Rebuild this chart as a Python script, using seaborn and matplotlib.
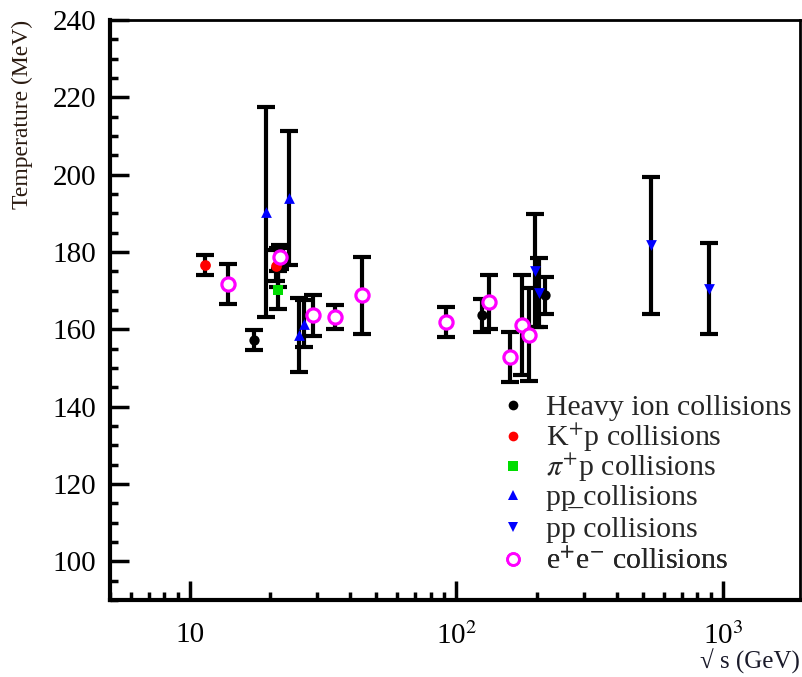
import numpy as np
import pandas as pd
import matplotlib
matplotlib.use("Agg")
import matplotlib.pyplot as plt
import seaborn as sns
from matplotlib.lines import Line2D
from matplotlib.ticker import FixedLocator, MultipleLocator, NullFormatter

# sqrt(s) in GeV, temperature and error in MeV
heavy_x = [17.3, 21.4, 125.0, 215.0]
heavy_t = [157.2, 176.0, 163.6, 168.8]
heavy_e = [2.6, 5.0, 4.2, 4.8]

kp_x = [11.4, 21.0]
kp_t = [176.7, 176.5]
kp_e = [2.6, 4.0]

pip_x = [21.4]
pip_t = [170.1]
pip_e = [4.9]

pp_x = [19.3, 23.6, 25.6, 26.8]
pp_t = [190.3, 194.0, 158.5, 161.5]
pp_e = [27.2, 17.3, 9.5, 6.1]

ppbar_x = [198.0, 205.0, 537.0, 885.0]
ppbar_t = [175.2, 169.5, 181.7, 170.5]
ppbar_e = [14.5, 9.0, 17.7, 11.7]

ee_x = [13.9, 21.7, 28.8, 35.0, 44.0, 91.2, 133.0, 159.0, 177.0, 188.0]
ee_t = [171.8, 178.7, 163.6, 163.2, 168.8, 161.9, 167.1, 152.9, 161.1, 158.6]
ee_e = [5.2, 3.0, 5.2, 3.1, 9.9, 4.0, 7.0, 6.5, 13.0, 12.0]

labels = ["Heavy ion collisions", "K$^{+}$p collisions", "$\\pi^{+}$p collisions",
          "pp\u0332 collisions", "pp collisions", "e$^{+}$e$^{-}$ collisions"]

sns.set_style("ticks")
plt.rcParams["font.family"] = ["Liberation Serif", "DejaVu Serif"]
plt.rcParams["mathtext.fontset"] = "stix"

fig = plt.figure(figsize=(8.03, 6.77), dpi=100)
ax = fig.add_axes([110 / 803, 77 / 677, 690 / 803, 580 / 677])

groups = [
    (heavy_x, heavy_t, heavy_e, "o", "black", 55),
    (kp_x, kp_t, kp_e, "o", "#ff0000", 60),
    (pip_x, pip_t, pip_e, "s", "#00dd00", 60),
    (pp_x, pp_t, pp_e, "^", "#0000ff", 60),
    (ppbar_x, ppbar_t, ppbar_e, "v", "#0000ff", 60),
    (ee_x, ee_t, ee_e, "o", "#ff00ff", 90),
]

# error bars first, markers on top
for x, t, e, _, _, _ in groups:
    ax.errorbar(x, t, yerr=e, fmt="none", ecolor="black", elinewidth=3.0,
                capsize=6.5, capthick=3.0, zorder=2)

handles = []
for (x, t, e, mk, col, size), lab in zip(groups, labels):
    df = pd.DataFrame({"x": x, "t": t})
    if col == "#ff00ff":
        sns.scatterplot(data=df, x="x", y="t", ax=ax, marker="o", s=size,
                        facecolor="white", edgecolor=col, linewidth=2.3, zorder=3)
        handles.append(Line2D([], [], ls="none", marker="o", ms=8.5, mfc="white",
                              mec=col, mew=2.0, label=lab))
    else:
        sns.scatterplot(data=df, x="x", y="t", ax=ax, marker=mk, s=size,
                        color=col, edgecolor=col, linewidth=0, zorder=3)
        handles.append(Line2D([], [], ls="none", marker=mk, ms=7, mfc=col,
                              mec=col, mew=0, label=lab))

ax.set_xscale("log")
ax.set_xlim(5, 1950)
ax.set_ylim(90, 240)

ax.xaxis.set_major_locator(FixedLocator([10, 100, 1000]))
ax.set_xticklabels(["10", "10$^{2}$", "10$^{3}$"])
ax.xaxis.set_minor_locator(FixedLocator(
    [m * 10 ** k for k in range(0, 4) for m in range(2, 10)]))
ax.xaxis.set_minor_formatter(NullFormatter())
ax.yaxis.set_major_locator(MultipleLocator(20))
ax.yaxis.set_minor_locator(MultipleLocator(5))

ax.tick_params(which="both", direction="in", top=False, right=False, width=2.5,
               labelsize=21, colors="black")
ax.tick_params(which="major", length=14, pad=10)
ax.tick_params(which="minor", length=6)
ax.tick_params(axis="x", which="major", pad=16)

for side, sp in ax.spines.items():
    sp.set_visible(True)
    sp.set_color("black")
    sp.set_linewidth(3.0 if side in ("left", "bottom") else 2.0)

ax.set_xlabel("")
ax.set_ylabel("")
fig.text(12 / 803, 1 - 20 / 677, "Temperature (MeV)", rotation=90, ha="left", va="top",
         fontsize=17, color="#2a1a10")
fig.text(800 / 803, 1 - 674 / 677, "\u221a s (GeV)", ha="right", va="bottom",
         fontsize=18, color="#1a1a2a")

# one legend per row so the rows keep an even spacing
row_y = [408, 438, 468, 498, 530, 562]
for h, ry in zip(handles, row_y):
    lg = ax.legend(handles=[h], loc="center left", bbox_to_anchor=(499 / 803, 1 - ry / 677),
                   bbox_transform=fig.transFigure, frameon=False, fontsize=21.5,
                   handletextpad=0.62, borderaxespad=0, borderpad=0, handlelength=0.95)
    ax.add_artist(lg)

fig.savefig("out.png", dpi=100)
